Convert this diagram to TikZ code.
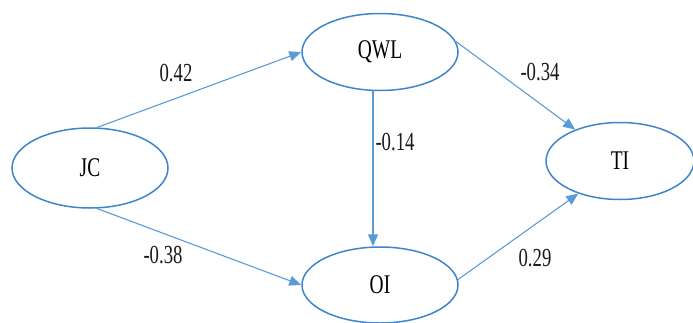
\documentclass[tikz,border=0pt]{standalone}
\usepackage{fontspec}
\setmainfont{Liberation Serif}
\usetikzlibrary{shapes.geometric,arrows.meta}
\definecolor{ellblue}{HTML}{3D85CC}
\definecolor{arrblue}{HTML}{5B9BD5}
\newcommand{\sq}[1]{\scalebox{0.72}[1]{#1}}
\tikzset{
  var/.style={ellipse, draw=ellblue, line width=1.5pt, fill=white, inner sep=0pt, font=\fontsize{27}{27}\selectfont},
  link/.style={draw=arrblue, line width=1.1pt, -{Triangle[length=12pt,width=10pt]}},
  coef/.style={font=\fontsize{26}{26}\selectfont, text=black!90}
}
\begin{document}
\begin{tikzpicture}[x=1pt,y=-1pt]
\useasboundingbox (0,0) rectangle (693,322);
\node[var, minimum width=156pt, minimum height=80pt] (JC) at (90,168) {\sq{JC}};
\node[var, minimum width=156pt, minimum height=77pt] (QWL) at (380,52) {\sq{QWL}};
\node[var, minimum width=156pt, minimum height=76pt] (OI) at (380,285) {\sq{OI}};
\node[var, minimum width=148pt, minimum height=77pt] (TI) at (620,161) {\sq{TI}};
\draw[link] (JC.80) -- (QWL.west);
\draw[link] (JC.-80) -- (OI.west);
\draw[link] (QWL.8) -- (TI.145);
\draw[link] (OI.4) -- (TI.218);
\draw[link] ([xshift=-7pt]QWL.south) -- ([xshift=-7pt]OI.north);
\node[coef] (c1) at (176,73) {\sq{0.42}};
\node[coef] (c2) at (163,255) {\sq{-0.38}};
\node[coef] (c3) at (540,72) {\sq{-0.34}};
\node[coef] (c4) at (395,142) {\sq{-0.14}};
\node[coef] (c5) at (535,258) {\sq{0.29}};
\end{tikzpicture}
\end{document}
